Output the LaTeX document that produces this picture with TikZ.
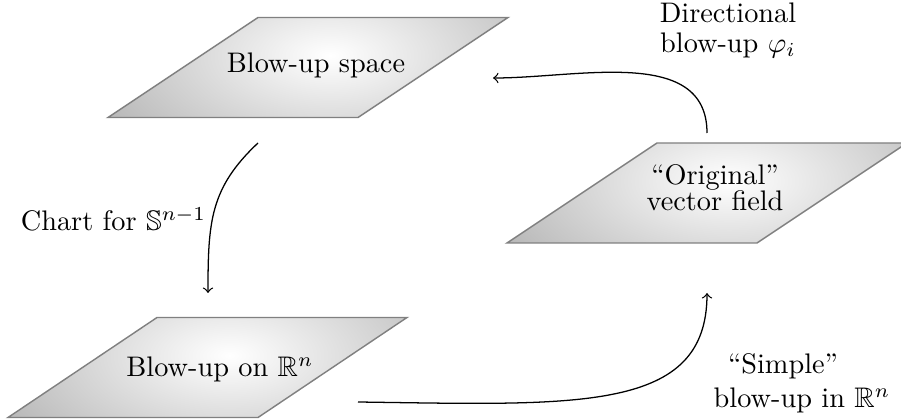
\documentclass[tikz,border=0pt]{standalone}
\usepackage{amssymb}
\usetikzlibrary{calc}
\tikzset{
  pgram/.style={draw=black!50, line width=0.5pt,
    path picture={\shade[inner color=white, outer color=black!33]
      ($(path picture bounding box.center)+(22,-12)$) ellipse [x radius=300, y radius=150];}},
  lbl/.style={anchor=base, inner sep=0pt},
  conn/.style={->, line width=0.45pt},
}
\begin{document}
\begin{tikzpicture}[x=0.3534pt, y=-0.3534pt]
\useasboundingbox (0,0) rectangle (901,420);
% parallelograms
\path[pgram] (258,17.5) -- (508,17.5) -- (358,117.5) -- (108,117.5) -- cycle;
\path[pgram] (657,143) -- (907,143) -- (757,243) -- (507,243) -- cycle;
\path[pgram] (157,317.5) -- (407,317.5) -- (258,417.5) -- (8,417.5) -- cycle;
% texts
\node[lbl] (space) at (316,72.5) {Blow-up space};
\node[lbl] (orig) at (715,184.5) {\begin{tabular}[t]{@{}c@{}}``Original''\\[-2.8pt] vector field\end{tabular}};
\node[lbl] (rn) at (220,377) {Blow-up on $\mathbb{R}^n$};
\node[lbl] (dir) at (728,23) {\begin{tabular}[t]{@{}c@{}}Directional\\[-1.7pt] blow-up $\varphi_i$\end{tabular}};
\node[lbl] (chart) at (113.5,231) {Chart for $\mathbb{S}^{n-1}$};
\node[lbl] (simple) at (802,374) {\begin{tabular}[t]{@{}c@{}}``Simple''\hspace*{13.4pt}\\ blow-up in $\mathbb{R}^n$\end{tabular}};
% connector ends
\coordinate (a1s) at (258,143);
\coordinate (a1e) at (208,293);
\coordinate (a2s) at (707,133);
\coordinate (a2e) at (493,78);
\coordinate (a3s) at (358,402);
\coordinate (a3e) at (707,293);
\draw[conn] (a1s) .. controls (210,188) and (208,222) .. (a1e);
\draw[conn] (a2s) .. controls (707,46) and (579,78) .. (a2e);
\draw[conn] (a3s) .. controls (578,405) and (707,413) .. (a3e);
\end{tikzpicture}
\end{document}
